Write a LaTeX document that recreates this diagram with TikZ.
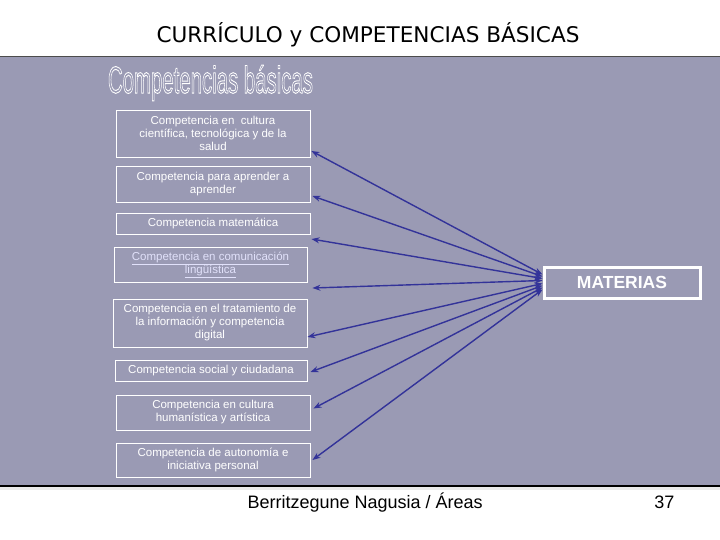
\documentclass[tikz,border=0pt]{standalone}
\usepackage{fontspec}
\setmainfont{Liberation Sans}
\newfontfamily\titlefont{DejaVu Sans}
\usetikzlibrary{arrows.meta}
\definecolor{panel}{RGB}{154,154,180}
\definecolor{arrowblue}{RGB}{51,51,153}
\definecolor{linkcol}{RGB}{225,225,250}
\newcommand{\outlinetext}[1]{\special{pdf:literal direct 1 Tr 0.5 w 1 1 1 RG}#1\special{pdf:literal direct 0 Tr}}
\tikzset{
  compbox/.style={draw=white, line width=0.9pt, text=white, align=center, inner sep=0pt,
    font=\fontsize{11.5}{13}\selectfont, minimum width=194pt},
  link/.style={arrowblue, line width=1.4pt, {Stealth[length=8pt,width=6pt]}-{Stealth[length=8pt,width=6pt]}}
}
\begin{document}
\begin{tikzpicture}[x=1pt,y=-1pt]
\useasboundingbox (0,0) rectangle (720,540);
\fill[white] (0,0) rectangle (720,540);
% panel
\fill[panel] (0,56) rectangle (720,486);
\draw[black!70, line width=1.5pt] (0,56.5) -- (720,56.5);
\draw[black, line width=2pt] (0,485.5) -- (720,485.5);
\fill[black!8] (0,487) rectangle (720,490);
% title
\node (title) at (368,35) {\resizebox{423pt}{!}{\titlefont\fontsize{20}{24}\selectfont CURRÍCULO y COMPETENCIAS BÁSICAS}};
% heading
\node[text=white] (head) at (210.5,83) {\resizebox{205pt}{28pt}{\fontsize{20}{24}\selectfont\outlinetext{Competencias básicas}}};
% boxes
\node[compbox, minimum height=47pt] (b1) at (213,133.5) {Competencia en \ cultura\\científica, tecnológica y de la\\salud};
\node[compbox, minimum height=36pt] (b2) at (213,184) {Competencia para aprender a\\aprender};
\node[compbox, minimum height=21pt] (b3) at (213,223.5) {Competencia matemática};
\node[compbox, minimum height=35pt, minimum width=193pt, text=linkcol, draw=white] (b4) at (210.5,264.5) {\underline{Competencia en comunicación}\\\underline{lingüística}};
\node[compbox, minimum height=48pt] (b5) at (210,323) {Competencia en el tratamiento de\\la información y competencia\\digital};
\node[compbox, minimum height=21pt, minimum width=192pt] (b6) at (211,370.5) {Competencia social y ciudadana};
\node[compbox, minimum height=35pt] (b7) at (213,412.5) {Competencia en cultura\\humanística y artística};
\node[compbox, minimum height=34pt] (b8) at (213,460) {Competencia de autonomía e\\iniciativa personal};
% MATERIAS
\node[draw=white, line width=3pt, text=white, font=\bfseries\fontsize{17.5}{20}\selectfont,
  minimum width=156pt, minimum height=31pt, inner sep=0pt] (mat) at (622,282.5) {MATERIAS};
% arrows
\draw[link] ([yshift=8pt]mat.west) -- ([xshift=1pt,yshift=-17.5pt]b1.east);
\draw[link] ([yshift=6pt]mat.west) -- ([xshift=2pt,yshift=-12pt]b2.east);
\draw[link] ([yshift=4pt]mat.west) -- ([xshift=1pt,yshift=-15.5pt]b3.east);
\draw[link] ([yshift=2pt]mat.west) -- ([xshift=5pt,yshift=-23.5pt]b4.east);
\draw[link] ([yshift=-1pt]mat.west) -- ([xshift=0pt,yshift=-14pt]b5.east);
\draw[link] ([yshift=-3pt]mat.west) -- ([xshift=3pt,yshift=-1.5pt]b6.east);
\draw[link] ([yshift=-5pt]mat.west) -- ([xshift=3pt,yshift=4pt]b7.east);
\draw[link] ([yshift=-7pt]mat.west) -- ([xshift=2pt,yshift=0pt]b8.east);
% footer
\node[anchor=base west, font=\fontsize{18}{21}\selectfont] (foot) at (244,508) {Berritzegune Nagusia / Áreas};
\node[anchor=base east, font=\fontsize{18}{21}\selectfont] (page) at (678,508) {37};
\end{tikzpicture}
\end{document}
